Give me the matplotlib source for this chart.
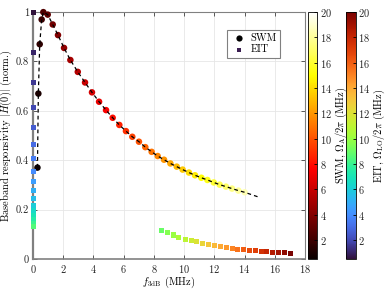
import numpy as np
import matplotlib
matplotlib.use("Agg")
import matplotlib.pyplot as plt
from matplotlib.ticker import FuncFormatter

plt.rcParams['font.family'] = 'serif'
plt.rcParams['font.serif'] = ['cmr10']
plt.rcParams['mathtext.fontset'] = 'cm'
plt.rcParams['axes.formatter.use_mathtext'] = True
plt.rcParams['font.size'] = 7.5

# SWM data: f3dB (MHz), normalised responsivity, Omega_A/2pi (MHz)
swm_f = [0.29, 0.35, 0.44, 0.57, 0.68, 0.97, 1.30, 1.65, 2.05, 2.47, 2.96, 3.44,
         3.90, 4.37, 4.83, 5.27, 5.71, 6.15, 6.57, 7.01, 7.43, 7.85, 8.25, 8.67,
         9.09, 9.51, 9.90, 10.32, 10.72, 11.14, 11.54, 11.96, 12.35, 12.77, 13.17,
         13.59, 14.01]
swm_h = [0.37, 0.67, 0.87, 0.97, 1.00, 0.99, 0.95, 0.907, 0.855, 0.806, 0.758, 0.715,
         0.675, 0.637, 0.603, 0.572, 0.543, 0.518, 0.495, 0.475, 0.453, 0.434, 0.417,
         0.402, 0.387, 0.374, 0.362, 0.350, 0.339, 0.329, 0.320, 0.310, 0.301, 0.293,
         0.285, 0.277, 0.270]
swm_omega = [0.5, 1.0, 1.5, 2.0, 2.5, 3.0, 3.5, 4.0, 4.5, 5.0, 5.5, 6.0, 6.5, 7.0,
             7.5, 8.0, 8.5, 9.0, 9.5, 10.0, 10.5, 11.0, 11.5, 12.0, 12.5, 13.0, 13.5,
             14.0, 14.5, 15.0, 15.5, 16.0, 16.5, 17.0, 17.5, 18.0, 18.5]

# fitted curve (dashed)
fit_f = swm_f + [14.87]
fit_h = swm_h + [0.252]

# EIT data
eit_f = [0.0] * 17 + [8.49, 8.89, 9.29, 9.66, 10.06, 10.46, 10.83, 11.23, 11.63,
                      12.02, 12.42, 12.82, 13.19, 13.56, 13.94, 14.32, 14.70, 15.09,
                      15.47, 15.84, 16.23, 16.63, 17.03]
eit_h = [1.00, 0.835, 0.715, 0.614, 0.533, 0.464, 0.405, 0.353, 0.312, 0.277, 0.244,
         0.217, 0.198, 0.178, 0.160, 0.145, 0.133,
         0.116, 0.107, 0.097, 0.088, 0.080, 0.074, 0.069, 0.064, 0.058, 0.054, 0.050,
         0.047, 0.043, 0.040, 0.038, 0.035, 0.034, 0.032, 0.030, 0.028, 0.027, 0.025,
         0.024]
eit_omega = [0.5, 1.0, 1.5, 2.0, 2.5, 3.0, 3.5, 4.0, 4.5, 5.0, 5.5, 6.0, 6.5, 7.0,
             7.5, 8.0, 8.5, 9.0, 9.5, 10.0, 10.5, 11.0, 11.5, 12.0, 12.5, 13.0, 13.5,
             14.0, 14.5, 15.0, 15.5, 16.0, 16.5, 17.0, 17.5, 18.0, 18.5, 19.0, 19.5,
             20.0]

vmin, vmax = 0.5, 20
grey = '#808080'

fig = plt.figure(figsize=(3.89, 2.89), dpi=100)
ax = fig.add_axes([0.085, 0.104, 0.699, 0.854])
cax1 = fig.add_axes([0.792, 0.104, 0.023, 0.854])
cax2 = fig.add_axes([0.889, 0.104, 0.025, 0.854])

sc2 = ax.scatter(eit_f, eit_h, c=eit_omega, cmap='turbo', vmin=vmin, vmax=vmax,
                 marker='s', s=13, linewidths=0, zorder=4, clip_on=False)
sc1 = ax.scatter(swm_f, swm_h, c=swm_omega, cmap='hot', vmin=vmin, vmax=vmax,
                 marker='o', s=22, linewidths=0, zorder=3, clip_on=False)
ax.plot(fit_f, fit_h, '--', color='k', lw=0.9, dashes=(3, 2.5), zorder=5)

# legend proxies
h1 = ax.scatter([], [], c='k', marker='o', s=20, linewidths=0)
h2 = ax.scatter([], [], c='#3b1e52', marker='s', s=9, linewidths=0)
leg = ax.legend([h1, h2], ['SWM', 'EIT'], loc='upper right',
                bbox_to_anchor=(0.926, 0.948), fancybox=False, framealpha=1,
                edgecolor=grey, handletextpad=0.3, handlelength=1.6,
                borderpad=0.3, labelspacing=0.2, fontsize=7.5)
leg.get_frame().set_linewidth(0.8)

ax.set_xlim(0, 18)
ax.set_ylim(0, 1)
ax.set_xticks(np.arange(0, 19, 2))
ax.set_yticks([0, 0.2, 0.4, 0.6, 0.8, 1.0])
ax.yaxis.set_major_formatter(FuncFormatter(lambda v, p: f'{v:g}'))
ax.grid(True, color='#e6e6e6', lw=0.6)
ax.set_axisbelow(True)
ax.tick_params(direction='in', top=True, right=True, length=3, width=0.6,
               colors='#404040', labelcolor='#262626', pad=3)
for s in ax.spines.values():
    s.set_color(grey)
    s.set_linewidth(0.8)
ax.spines['left'].set_linewidth(1.6)
ax.spines['bottom'].set_linewidth(1.2)
ax.set_xlabel(r'$f_{\rm 3dB}$ (MHz)', labelpad=0)
ax.set_ylabel(r'Baseband responsivity $|H(0)|$ (norm.)', labelpad=1)

cb1 = fig.colorbar(sc1, cax=cax1)
cb2 = fig.colorbar(sc2, cax=cax2)
for cb, lab in [(cb1, r'SWM, $\Omega_{\rm A}/2\pi$ (MHz)'),
                (cb2, r'EIT, $\Omega_{\rm LO}/2\pi$ (MHz)')]:
    cb.set_ticks(np.arange(2, 21, 2))
    cb.ax.tick_params(direction='in', length=2.5, width=0.6, labelsize=7.5, pad=2,
                      labelcolor='#262626')
    cb.outline.set_linewidth(0.6)
    cb.set_label(lab, fontsize=7.5, labelpad=1)

fig.savefig('out.png', dpi=100)
